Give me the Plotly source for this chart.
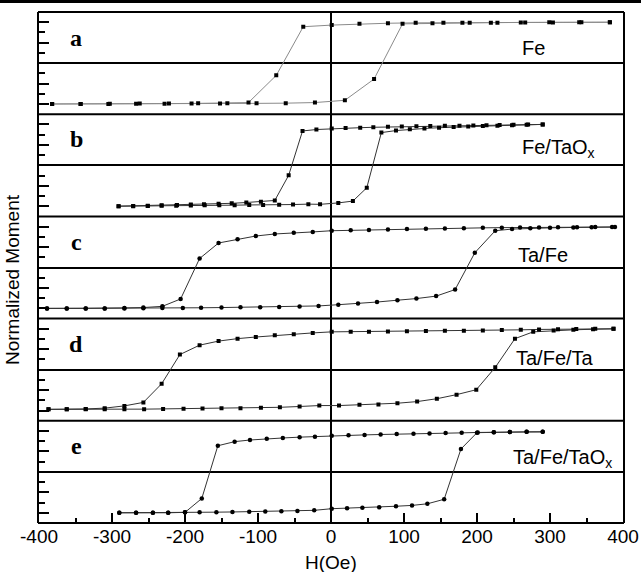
import plotly.graph_objects as go

# ---- data: normalized moment vs applied field H (Oe) ----
sample_names = ["Fe", "Fe/TaO<sub>x</sub>", "Ta/Fe", "Ta/Fe/Ta", "Ta/Fe/TaO<sub>x</sub>"]
panel_letters = ["a", "b", "c", "d", "e"]

# Fe
fe_desc_h = [382, 343, 304, 266, 228, 190, 154, 116, 78, 39, 1, -38, -75, -113, -142, -182, -222, -262, -303, -343, -382]
fe_desc_m = [1.0, 1.0, 0.995, 0.995, 0.99, 0.99, 0.985, 0.985, 0.975, 0.96, 0.93, 0.89, -0.30, -0.965, -0.98, -0.985, -0.99, -0.99, -0.995, -1.0, -1.0]
fe_asc_h = [-382, -343, -305, -267, -228, -191, -152, -102, -62, -22, 19, 59, 98, 139, 180, 219, 260, 299, 340, 382]
fe_asc_m = [-1.0, -1.0, -1.0, -0.995, -0.995, -0.99, -0.99, -0.985, -0.98, -0.965, -0.91, -0.39, 0.96, 0.975, 0.985, 0.99, 0.995, 1.0, 1.0, 1.0]

# Fe/TaOx
feo_desc_h = [290, 270, 250, 231, 213, 195, 176, 156, 136, 117, 97, 78, 58, 40, 20, 1, -20, -39, -58, -77, -96, -116, -136, -154, -174, -192, -211, -232, -251, -271, -291]
feo_desc_m = [1.0, 0.995, 0.99, 0.985, 0.98, 0.975, 0.97, 0.965, 0.96, 0.955, 0.95, 0.94, 0.93, 0.92, 0.91, 0.90, 0.875, 0.84, -0.245, -0.86, -0.89, -0.91, -0.93, -0.94, -0.95, -0.96, -0.97, -0.98, -0.99, -0.995, -1.0]
feo_asc_h = [-291, -271, -251, -232, -212, -192, -173, -153, -132, -112, -93, -71, -52, -31, -15, 10, 30, 49, 69, 89, 108, 128, 148, 168, 188, 208, 228, 248, 268, 290]
feo_asc_m = [-1.0, -1.0, -0.995, -0.99, -0.99, -0.985, -0.98, -0.98, -0.975, -0.97, -0.97, -0.965, -0.96, -0.95, -0.955, -0.92, -0.875, -0.55, 0.80, 0.85, 0.88, 0.90, 0.92, 0.935, 0.95, 0.96, 0.97, 0.98, 0.99, 1.0]

# Ta/Fe
tafe_desc_h = [389, 362, 337, 311, 285, 259, 234, 208, 182, 156, 130, 104, 78, 52, 27, 1, -25, -51, -77, -103, -128, -154, -180, -206, -231, -257, -283, -310, -336, -362, -389]
tafe_desc_m = [0.99, 0.99, 0.985, 0.985, 0.98, 0.98, 0.975, 0.97, 0.96, 0.955, 0.95, 0.94, 0.93, 0.92, 0.91, 0.90, 0.87, 0.85, 0.82, 0.77, 0.69, 0.60, 0.22, -0.77, -0.95, -0.98, -0.99, -1.0, -1.0, -1.0, -1.0]
tafe_asc_h = [-389, -362, -336, -310, -283, -257, -231, -203, -178, -150, -124, -97, -71, -43, -17, 10, 37, 63, 91, 117, 144, 170, 197, 225, 248, 273, 300, 332, 357, 385]
tafe_asc_m = [-1.0, -1.0, -1.0, -1.0, -1.0, -0.995, -0.99, -0.99, -0.985, -0.98, -0.975, -0.97, -0.965, -0.955, -0.94, -0.91, -0.88, -0.845, -0.80, -0.76, -0.70, -0.54, 0.36, 0.90, 0.94, 0.96, 0.97, 0.98, 0.985, 0.99]

# Ta/Fe/Ta
tafeta_desc_h = [387, 362, 336, 311, 285, 260, 234, 208, 182, 156, 130, 104, 78, 52, 27, 1, -25, -51, -77, -103, -128, -154, -180, -207, -232, -257, -283, -310, -336, -362, -387]
tafeta_desc_m = [1.0, 1.0, 0.995, 0.99, 0.985, 0.975, 0.97, 0.96, 0.955, 0.95, 0.945, 0.94, 0.935, 0.93, 0.93, 0.926, 0.90, 0.87, 0.84, 0.80, 0.76, 0.70, 0.60, 0.37, -0.345, -0.80, -0.885, -0.94, -0.96, -0.965, -0.97]
tafeta_asc_h = [-387, -362, -336, -310, -283, -256, -230, -202, -176, -150, -124, -96, -70, -43, -16, 11, 39, 65, 91, 118, 145, 172, 199, 225, 252, 277, 305, 332, 359, 387]
tafeta_asc_m = [-0.97, -0.97, -0.97, -0.97, -0.965, -0.965, -0.96, -0.955, -0.95, -0.945, -0.94, -0.93, -0.92, -0.90, -0.877, -0.877, -0.86, -0.85, -0.82, -0.78, -0.71, -0.61, -0.49, 0.057, 0.76, 0.926, 0.96, 0.975, 0.99, 1.0]

# Ta/Fe/TaOx
tafeo_desc_h = [290, 268, 245, 223, 201, 179, 157, 135, 113, 90, 68, 46, 24, 1, -22, -43, -66, -88, -111, -132, -155, -177, -200, -223, -244, -267, -290]
tafeo_desc_m = [0.98, 0.98, 0.975, 0.97, 0.965, 0.955, 0.95, 0.94, 0.935, 0.925, 0.915, 0.905, 0.895, 0.885, 0.86, 0.85, 0.83, 0.81, 0.78, 0.74, 0.64, -0.65, -0.99, -1.0, -1.0, -1.0, -1.0]
tafeo_asc_h = [-290, -267, -244, -223, -200, -180, -157, -135, -112, -90, -68, -46, -23, 1, 22, 43, 66, 89, 111, 132, 155, 178, 200, 223, 245, 268, 290]
tafeo_asc_m = [-1.0, -1.0, -1.0, -1.0, -0.99, -0.99, -0.985, -0.98, -0.975, -0.97, -0.96, -0.955, -0.94, -0.90, -0.89, -0.88, -0.865, -0.84, -0.82, -0.78, -0.67, 0.56, 0.96, 0.97, 0.975, 0.98, 0.98]

x_ticks = [-400, -300, -200, -100, 0, 100, 200, 300, 400]

loops = [
    (fe_desc_h, fe_desc_m, fe_asc_h, fe_asc_m),
    (feo_desc_h, feo_desc_m, feo_asc_h, feo_asc_m),
    (tafe_desc_h, tafe_desc_m, tafe_asc_h, tafe_asc_m),
    (tafeta_desc_h, tafeta_desc_m, tafeta_asc_h, tafeta_asc_m),
    (tafeo_desc_h, tafeo_desc_m, tafeo_asc_h, tafeo_asc_m),
]

# ---- styling ----
symbols = ["square", "square", "circle", "square", "circle"]
marker_sizes = [4, 4, 4.5, 4, 4.5]
line_colors = ["#8a8a8a", "#333333", "#333333", "#333333", "#333333"]
label_pos = [(-349, 0.62), (-349, 0.64), (-349, 0.63), (-349, 0.62), (-349, 0.64)]
name_pos = [(259, 0.36), (259, 0.40), (254, 0.30), (250, 0.29), (246, 0.32)]

W, H = 641, 572
M_L, M_R, M_T, M_B = 39, 18, 12, 49
plot_w = W - M_L - M_R
plot_h = H - M_T - M_B
n = len(loops)
TXT = "Liberation Sans, Arial, sans-serif"

fig = go.Figure()
layout = dict(
    width=W, height=H, autosize=False,
    margin=dict(l=M_L, r=M_R, t=M_T, b=M_B, pad=0, autoexpand=False),
    paper_bgcolor="white", plot_bgcolor="white",
    showlegend=False,
    font=dict(family=TXT, size=19, color="black"),
)

annotations = []
for i, (dh, dm, ah, am) in enumerate(loops):
    sfx = "" if i == 0 else str(i + 1)
    fig.add_trace(go.Scatter(
        x=dh + ah, y=dm + am,
        xaxis="x" + sfx, yaxis="y" + sfx,
        mode="lines+markers",
        line=dict(color=line_colors[i], width=1),
        marker=dict(symbol=symbols[i], size=marker_sizes[i], color="black",
                    line=dict(width=0)),
        hoverinfo="skip",
    ))
    top = 1 - i / n
    bot = 1 - (i + 1) / n
    bottom_panel = i == n - 1
    xa = dict(
        domain=[0, 1], anchor="y" + sfx, range=[-400, 400],
        showline=False, automargin=False,
        showgrid=False, zeroline=True, zerolinecolor="black", zerolinewidth=1.6,
        fixedrange=True,
    )
    if i > 0:
        xa["matches"] = "x"
    if bottom_panel:
        xa.update(
            ticks="inside", ticklen=10, tickwidth=1.5, tickcolor="black",
            tickvals=x_ticks, ticktext=[str(v) for v in x_ticks],
            showticklabels=True, tickfont=dict(family=TXT, size=19),
            minor=dict(tickvals=[v + 50 for v in x_ticks[:-1]], ticks="inside",
                       ticklen=5, tickwidth=1.5, tickcolor="black"),
        )
    else:
        xa.update(ticks="", showticklabels=False)
    ya = dict(
        domain=[bot, top], anchor="x" + sfx, range=[-1.25, 1.25],
        showline=True, mirror=True, linecolor="black", linewidth=2,
        automargin=False,
        showgrid=False, zeroline=True, zerolinecolor="black", zerolinewidth=1.6,
        ticks="inside", ticklen=10, tickwidth=1.5, tickcolor="black",
        tickvals=[-1, -0.5, 0.5, 1], showticklabels=False,
        minor=dict(tickvals=[-0.75, -0.25, 0.25, 0.75], ticks="inside",
                   ticklen=6, tickwidth=1.5, tickcolor="black"),
        fixedrange=True,
    )
    layout["xaxis" + sfx] = xa
    layout["yaxis" + sfx] = ya

    lx, ly = label_pos[i]
    annotations.append(dict(
        x=lx, y=ly, xref="x" + sfx, yref="y" + sfx, text="<b>%s</b>" % panel_letters[i],
        showarrow=False, xanchor="center", yanchor="middle",
        font=dict(family="Liberation Serif, Times New Roman, serif", size=24, color="black"),
    ))
    nx, ny = name_pos[i]
    annotations.append(dict(
        x=nx, y=ny, xref="x" + sfx, yref="y" + sfx, text=sample_names[i],
        showarrow=False, xanchor="left", yanchor="middle",
        font=dict(family=TXT, size=20, color="black"),
    ))

annotations.append(dict(
    x=-27 / plot_w, y=(H - M_B - 280) / plot_h, xref="paper", yref="paper",
    text="Normalized Moment", textangle=-90, showarrow=False,
    xanchor="center", yanchor="middle", font=dict(family=TXT, size=19),
))
annotations.append(dict(
    x=(331 - M_L) / plot_w, y=-(562 - (H - M_B)) / plot_h, xref="paper", yref="paper",
    text="H(Oe)", showarrow=False, xanchor="center", yanchor="middle",
    font=dict(family=TXT, size=19),
))
layout["annotations"] = annotations

# panel frames: one 2 px rule at every panel boundary
pad_x = 1 / plot_w
shapes = [dict(
    type="line", xref="paper", yref="paper",
    x0=-pad_x, x1=1 + pad_x, y0=k / n, y1=k / n,
    line=dict(color="black", width=2), layer="above",
) for k in range(n + 1)]
# black rule across the top of the page
shapes.append(dict(
    type="rect", xref="paper", yref="paper",
    x0=-M_L / plot_w - 0.02, x1=1 + M_R / plot_w + 0.02,
    y0=1 + (M_T - 3) / plot_h, y1=1 + M_T / plot_h + 0.01,
    fillcolor="black", line=dict(width=0), layer="above",
))
layout["shapes"] = shapes

fig.update_layout(**layout)
fig.write_html("out.html")
